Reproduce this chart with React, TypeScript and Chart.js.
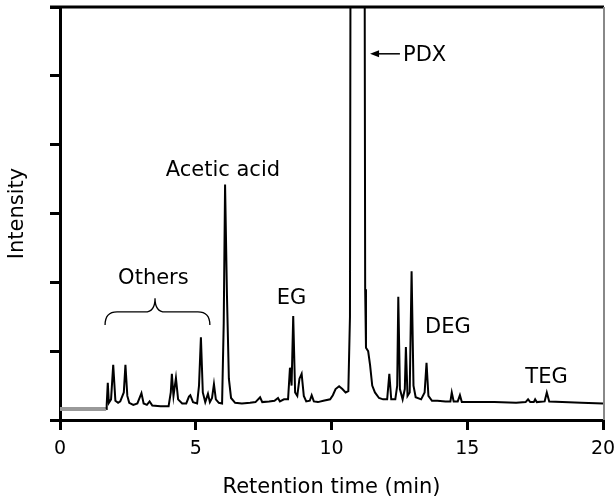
import React, { useEffect, useRef } from "react";
import { Chart, registerables } from "chart.js";

Chart.register(...registerables);

// Retention time (min)
const retentionTime = [
  0, 1.7, 1.72, 1.76, 1.8, 1.88, 1.96, 2.04, 2.14, 2.22, 2.35, 2.41, 2.48, 2.55, 2.7, 2.85,
  3.0, 3.08, 3.2, 3.3, 3.4, 3.7, 4.0, 4.08, 4.12, 4.18, 4.27, 4.35, 4.5, 4.65, 4.75, 4.8,
  4.9, 5.05, 5.12, 5.19, 5.26, 5.35, 5.45, 5.52, 5.6, 5.67, 5.74, 5.85, 5.97, 6.03, 6.08,
  6.15, 6.22, 6.3, 6.45, 6.7, 7.0, 7.2, 7.37, 7.45, 7.7, 7.9, 8.03, 8.1, 8.25, 8.4, 8.47,
  8.53, 8.59, 8.66, 8.74, 8.82, 8.9, 8.98, 9.07, 9.2, 9.27, 9.35, 9.5, 9.7, 9.95, 10.05,
  10.15, 10.28, 10.4, 10.52, 10.62, 10.68, 10.72, 11.2, 11.24, 11.27, 11.35, 11.42, 11.5,
  11.6, 11.75, 11.9, 12.05, 12.13, 12.2, 12.35, 12.42, 12.46, 12.52, 12.62, 12.7, 12.74,
  12.8, 12.88, 12.95, 13.02, 13.1, 13.3, 13.43, 13.5, 13.57, 13.7, 13.9, 14.2, 14.38,
  14.43, 14.5, 14.65, 14.73, 14.8, 15.2, 16.0, 16.8, 17.15, 17.24, 17.32, 17.45, 17.5,
  17.56, 17.85, 17.93, 18.02, 18.5, 19.2, 20,
];

// Detector intensity (arbitrary units)
const intensity = [
  0.16, 0.16, 0.22, 0.54, 0.25, 0.3, 0.8, 0.28, 0.25, 0.27, 0.4, 0.8, 0.35, 0.25, 0.22, 0.24,
  0.39, 0.24, 0.22, 0.27, 0.21, 0.2, 0.2, 0.4, 0.67, 0.35, 0.61, 0.3, 0.24, 0.24, 0.34, 0.36,
  0.26, 0.24, 0.5, 1.2, 0.4, 0.26, 0.38, 0.26, 0.32, 0.52, 0.3, 0.25, 0.24, 1.4, 3.42,
  1.8, 0.6, 0.32, 0.25, 0.24, 0.25, 0.26, 0.33, 0.26, 0.27, 0.28, 0.32, 0.27, 0.3, 0.3, 0.76,
  0.5, 1.51, 0.4, 0.35, 0.6, 0.67, 0.35, 0.27, 0.28, 0.36, 0.27, 0.26, 0.28, 0.3, 0.36,
  0.45, 0.49, 0.45, 0.4, 0.42, 1.5, 12, 12, 1.9, 1.05, 1.0, 0.8, 0.5,
  0.4, 0.32, 0.3, 0.3, 0.67, 0.3, 0.3, 0.5, 1.79, 0.45, 0.3, 0.45, 1.06,
  0.35, 0.4, 2.16, 0.5, 0.33, 0.3, 0.4, 0.83, 0.35, 0.28, 0.28, 0.27, 0.27,
  0.4, 0.27, 0.27, 0.36, 0.26, 0.26, 0.26, 0.25, 0.26, 0.3, 0.26, 0.26, 0.3,
  0.26, 0.27, 0.4, 0.27, 0.26, 0.25, 0.24,
];

const xTicks = [0, 5, 10, 15, 20];

// Peak annotations (in data coordinates)
const peakLabels = ["Acetic acid", "Others", "EG", "DEG", "TEG", "PDX"];
const peakLabelX = [6.0, 3.44, 8.53, 14.29, 17.92, 13.43];
const peakLabelY = [3.63, 2.05, 1.77, 1.35, 0.61, 5.29];

const FONT = "'DejaVu Sans', sans-serif";

const annotationPlugin = {
  id: "peakAnnotations",
  afterDraw(chart: any) {
    const { ctx, chartArea, scales } = chart;
    const xs = scales.x;
    const ys = scales.y;
    ctx.save();
    // frame: top line and right grey line
    ctx.strokeStyle = "#000";
    ctx.lineWidth = 3;
    ctx.beginPath();
    ctx.moveTo(chartArea.left - 10, chartArea.top);
    ctx.lineTo(chartArea.right + 1, chartArea.top);
    ctx.stroke();
    ctx.strokeStyle = "#888";
    ctx.lineWidth = 2;
    ctx.beginPath();
    ctx.moveTo(chartArea.right + 1, chartArea.top);
    ctx.lineTo(chartArea.right + 1, chartArea.bottom);
    ctx.stroke();

    // labels
    ctx.fillStyle = "#000";
    ctx.font = `21px ${FONT}`;
    ctx.textAlign = "center";
    ctx.textBaseline = "middle";
    peakLabels.forEach((lab, i) => {
      ctx.fillText(lab, xs.getPixelForValue(peakLabelX[i]), ys.getPixelForValue(peakLabelY[i]));
    });

    // PDX arrow
    const ay = ys.getPixelForValue(5.32);
    const ax0 = xs.getPixelForValue(12.52);
    const ax1 = xs.getPixelForValue(11.42);
    ctx.strokeStyle = "#000";
    ctx.lineWidth = 1.5;
    ctx.beginPath();
    ctx.moveTo(ax0, ay);
    ctx.lineTo(ax1 + 6, ay);
    ctx.stroke();
    ctx.beginPath();
    ctx.moveTo(ax1, ay);
    ctx.lineTo(ax1 + 9, ay - 3.5);
    ctx.lineTo(ax1 + 9, ay + 3.5);
    ctx.closePath();
    ctx.fill();

    // brace for "Others"
    const bx0 = xs.getPixelForValue(1.66);
    const bx1 = xs.getPixelForValue(5.52);
    const bm = xs.getPixelForValue(3.5);
    const bEnd = ys.getPixelForValue(1.38);
    const bLine = ys.getPixelForValue(1.57);
    const bTip = ys.getPixelForValue(1.77);
    ctx.lineWidth = 1.3;
    ctx.beginPath();
    ctx.moveTo(bx0, bEnd);
    ctx.quadraticCurveTo(bx0, bLine, bx0 + 12, bLine);
    ctx.lineTo(bm - 10, bLine);
    ctx.quadraticCurveTo(bm, bLine, bm, bTip);
    ctx.quadraticCurveTo(bm, bLine, bm + 10, bLine);
    ctx.lineTo(bx1 - 12, bLine);
    ctx.quadraticCurveTo(bx1, bLine, bx1, bEnd);
    ctx.stroke();
    ctx.restore();
  },
};

export default function App() {
  const canvasRef = useRef<HTMLCanvasElement | null>(null);

  useEffect(() => {
    const canvas = canvasRef.current;
    if (!canvas) return;
    const data = retentionTime.map((t, i) => ({ x: t, y: intensity[i] }));
    const chart = new Chart(canvas, {
      type: "line",
      data: {
        datasets: [
          {
            data,
            borderColor: "#000",
            borderWidth: 2,
            pointRadius: 0,
            tension: 0,
            fill: false,
            segment: {
              borderColor: (c: any) => (c.p1.parsed.x <= 1.7 ? "#999" : "#000"),
              borderWidth: (c: any) => (c.p1.parsed.x <= 1.7 ? 4 : 2),
            },
          },
        ],
      },
      options: {
        animation: false,
        responsive: false,
        layout: { padding: { top: 7, right: 11, left: 0, bottom: 0 } },
        plugins: { legend: { display: false }, tooltip: { enabled: false } },
        scales: {
          x: {
            type: "linear",
            min: 0,
            max: 20,
            afterFit: (s: any) => {
              s.height = 81;
              s.paddingLeft = 0;
              s.paddingRight = 0;
            },
            afterBuildTicks: (s: any) => {
              s.ticks = xTicks.map((v) => ({ value: v }));
            },
            ticks: {
              color: "#000",
              font: { family: FONT, size: 19 },
              padding: 8,
              maxRotation: 0,
              autoSkip: false,
            },
            grid: {
              drawOnChartArea: false,
              drawTicks: true,
              tickLength: 10,
              lineWidth: 3,
              color: "#000",
            },
            border: { display: true, color: "#000", width: 3 },
            title: {
              display: true,
              text: "Retention time (min)",
              color: "#000",
              font: { family: FONT, size: 21 },
              padding: { top: 0, bottom: 1 },
            },
          },
          y: {
            type: "linear",
            min: 0,
            max: 6,
            afterFit: (s: any) => {
              s.width = 60;
              s.paddingTop = 0;
              s.paddingBottom = 0;
            },
            ticks: { display: false, stepSize: 1 },
            grid: {
              drawOnChartArea: false,
              drawTicks: true,
              tickLength: 10,
              lineWidth: 3,
              color: "#000",
            },
            border: { display: true, color: "#000", width: 3 },
            title: {
              display: true,
              text: "Intensity",
              color: "#000",
              font: { family: FONT, size: 21 },
              padding: { top: 5, bottom: 0 },
            },
          },
        },
      },
      plugins: [annotationPlugin],
    });
    return () => chart.destroy();
  }, []);

  return (
    <div style={{ position: "absolute", left: 0, top: 0, width: 614, height: 501, background: "#fff" }}>
      <canvas ref={canvasRef} width={614} height={501} style={{ display: "block" }} />
    </div>
  );
}
